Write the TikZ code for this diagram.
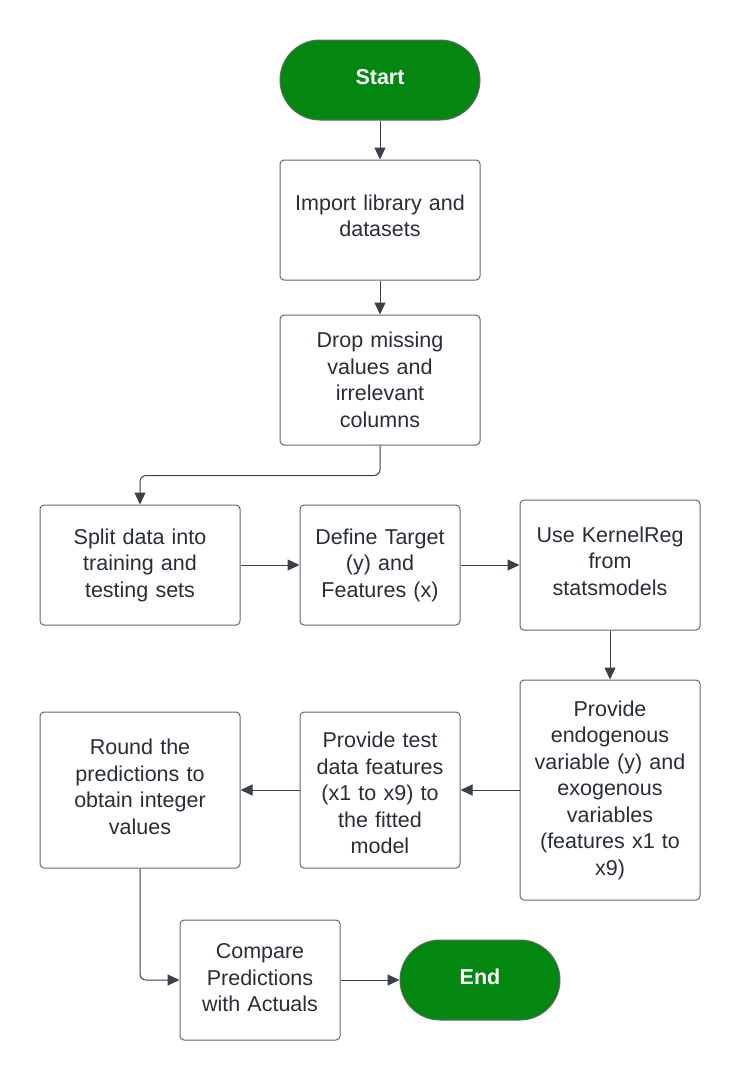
\documentclass[tikz,border=0pt]{standalone}
\usepackage{fontspec}
\setmainfont{Liberation Sans}
\usetikzlibrary{arrows.meta}
\definecolor{termgreen}{RGB}{4,135,16}
\definecolor{boxline}{RGB}{100,104,110}
\definecolor{arrowc}{RGB}{58,65,74}
\definecolor{txt}{RGB}{40,46,56}
\newcommand\myboxpad[1]{\endgraf\vspace{#1}}
\begin{document}
\begin{tikzpicture}[x=1pt,y=-1pt,
  proc/.style={draw=boxline,line width=1pt,rounded corners=4pt,fill=white,
    align=center,text=txt,inner sep=0pt,
    font=\fontsize{21.5}{26.5}\selectfont},
  textpad/.style={execute at end node={\myboxpad{#1}}},
  term/.style={draw=boxline,line width=1pt,fill=termgreen,rounded corners=40pt,
    text=white,font=\fontsize{21.5}{26}\selectfont\bfseries,inner sep=0pt,
    text depth=6pt},
  conn/.style={draw=arrowc,line width=1pt,-{Triangle[length=12pt,width=11pt]},rounded corners=6pt}]
\useasboundingbox[fill=white] (0,0) rectangle (740,1080);

\node[term,minimum width=200pt,minimum height=80pt] (start) at (380,80) {Start};
\node[proc,textpad=8pt,minimum width=200pt,minimum height=120pt,text width=190pt] (b1) at (380,220) {Import library and\\datasets};
\node[proc,minimum width=200pt,minimum height=130pt,text width=190pt] (b2) at (380,380) {Drop missing\\values and\\irrelevant\\columns};
\node[proc,minimum width=200pt,minimum height=120pt,text width=190pt] (b3) at (140,565) {Split data into\\training and\\testing sets};
\node[proc,minimum width=160pt,minimum height=120pt,text width=155pt] (b4) at (380,565) {Define Target\\(y) and\\Features (x)};
\node[proc,textpad=8pt,minimum width=180pt,minimum height=130pt,text width=175pt] (b5) at (610,565) {Use KernelReg\\from\\statsmodels};
\node[proc,minimum width=180pt,minimum height=220pt,text width=175pt] (b6) at (610,790) {Provide\\endogenous\\variable (y) and\\exogenous\\variables\\(features x1 to\\x9)};
\node[proc,textpad=-6pt,minimum width=160pt,minimum height=156pt,text width=155pt] (b7) at (380,790) {Provide test\\data features\\(x1 to x9) to\\the fitted\\model};
\node[proc,textpad=6pt,minimum width=200pt,minimum height=156pt,text width=190pt] (b8) at (140,790) {Round the\\predictions to\\obtain integer\\values};
\node[proc,textpad=4pt,minimum width=160pt,minimum height=120pt,text width=155pt] (b9) at (260,980) {Compare\\Predictions\\with Actuals};
\node[term,minimum width=160pt,minimum height=80pt] (end) at (480,980) {End};

\draw[conn] (start) -- (b1);
\draw[conn] (b1) -- (b2);
\draw[conn] (b2.south) -- ++(0,30) -| (b3.north);
\draw[conn] (b3) -- (b4);
\draw[conn] (b4) -- (b5);
\draw[conn] (b5) -- (b6);
\draw[conn] (b6) -- (b7);
\draw[conn] (b7) -- (b8);
\draw[conn] (b8.south) |- (b9.west);
\draw[conn] (b9) -- (end);
\end{tikzpicture}
\end{document}
